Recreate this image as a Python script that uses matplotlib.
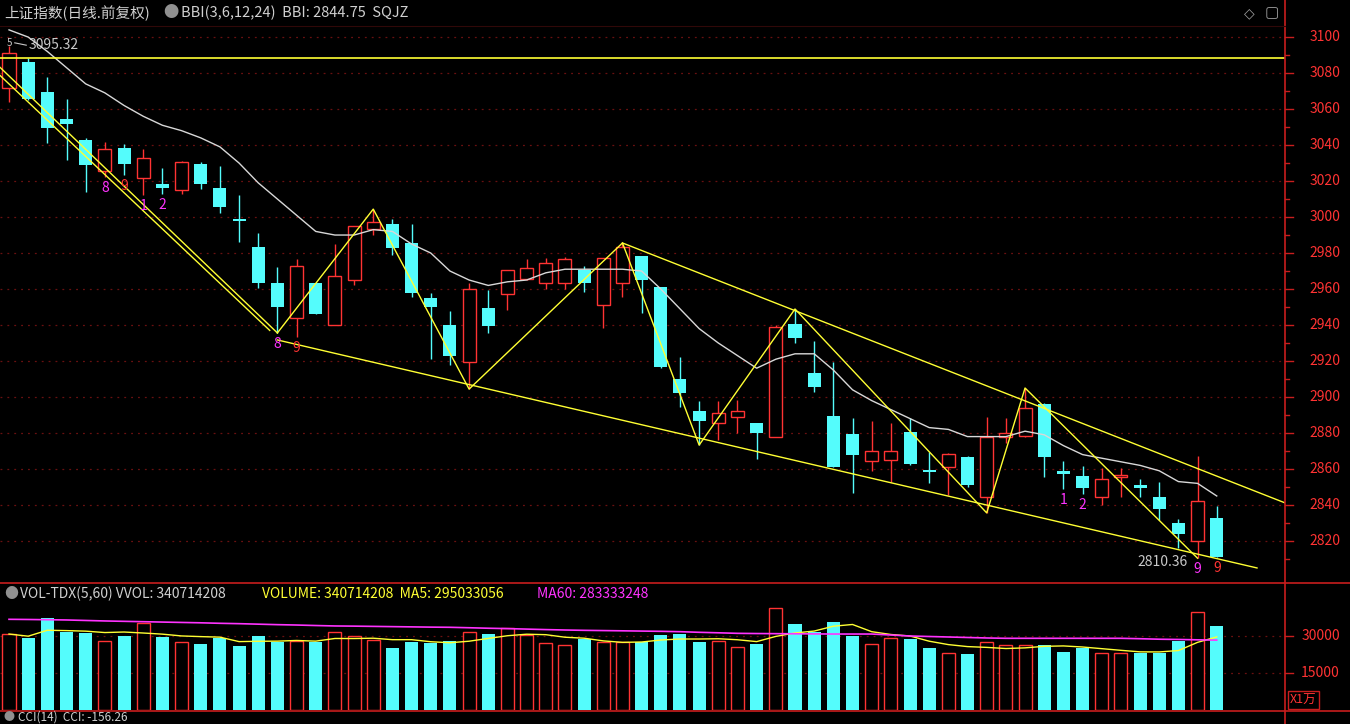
import numpy as np
import pandas as pd
import matplotlib
matplotlib.use("Agg")
import matplotlib.pyplot as plt

plt.rcParams['font.family'] = ['Noto Sans CJK SC', 'DejaVu Sans']

# daily OHLC
opens = [3071.7, 3086.1, 3069.4, 3054.4, 3042.8, 3025.6, 3038.3, 3021.7, 3018.3, 3015.0,
         3029.4, 3016.1, 2999.0, 2983.3, 2963.3, 2943.9, 2963.3, 2940.0, 2965.0, 2993.3,
         2996.1, 2985.6, 2955.0, 2940.0, 2919.4, 2949.4, 2957.2, 2965.6, 2963.3, 2963.3,
         2970.6, 2951.1, 2963.3, 2978.3, 2961.1, 2910.0, 2892.2, 2885.6, 2888.9, 2885.6,
         2877.8, 2940.6, 2913.3, 2889.4, 2879.4, 2864.4, 2865.0, 2880.6, 2859.0, 2861.1,
         2866.7, 2844.4, 2877.8, 2878.3, 2896.1, 2858.9, 2856.1, 2844.4, 2855.6, 2851.1,
         2844.4, 2830.0, 2820.0, 2832.8]
highs = [3095.3, 3088.3, 3077.8, 3065.6, 3043.9, 3041.7, 3040.6, 3037.8, 3027.2, 3031.1,
         3030.6, 3028.3, 3012.2, 2991.1, 2972.2, 2976.7, 2963.3, 2985.0, 2995.0, 3004.4,
         2998.9, 2996.1, 2957.8, 2947.8, 2963.3, 2959.4, 2970.6, 2976.7, 2977.2, 2977.8,
         2972.8, 2977.2, 2985.6, 2978.3, 2961.1, 2922.2, 2897.8, 2897.8, 2898.3, 2885.6,
         2940.0, 2948.9, 2931.1, 2919.4, 2888.3, 2886.7, 2885.6, 2888.3, 2869.4, 2869.0,
         2867.0, 2888.9, 2888.3, 2905.0, 2896.7, 2864.4, 2861.7, 2860.6, 2860.6, 2854.4,
         2852.8, 2832.2, 2867.2, 2839.4]
lows = [3063.9, 3065.0, 3041.1, 3031.7, 3013.9, 3022.2, 3023.3, 3012.2, 3012.8, 3012.8,
        3015.6, 3002.2, 2986.1, 2960.6, 2935.6, 2933.3, 2946.1, 2940.0, 2962.2, 2990.0,
        2978.9, 2955.6, 2921.1, 2917.8, 2904.4, 2935.6, 2948.3, 2965.0, 2960.0, 2960.0,
        2958.3, 2938.3, 2955.6, 2946.7, 2916.0, 2894.4, 2873.3, 2876.1, 2880.0, 2865.6,
        2877.8, 2930.0, 2902.8, 2861.0, 2846.7, 2858.9, 2852.8, 2862.0, 2852.2, 2845.6,
        2850.0, 2835.6, 2874.4, 2878.0, 2855.6, 2848.9, 2846.1, 2840.0, 2844.4, 2844.4,
        2831.7, 2816.1, 2810.4, 2811.0]
closes = [3091.1, 3065.6, 3049.4, 3051.7, 3028.9, 3037.8, 3029.4, 3032.8, 3016.1, 3030.6,
          3018.3, 3005.6, 2998.0, 2963.3, 2950.0, 2972.8, 2946.1, 2967.2, 2995.0, 2997.2,
          2982.8, 2957.8, 2950.0, 2922.8, 2960.0, 2939.4, 2970.6, 2971.7, 2974.4, 2976.7,
          2963.3, 2977.2, 2983.3, 2965.0, 2916.7, 2902.2, 2886.7, 2891.1, 2892.2, 2880.0,
          2938.9, 2932.8, 2905.6, 2861.1, 2867.8, 2870.0, 2870.0, 2862.8, 2858.5, 2868.3,
          2851.1, 2877.8, 2880.0, 2893.9, 2866.7, 2857.2, 2849.4, 2854.4, 2856.7, 2849.4,
          2837.8, 2823.9, 2842.2, 2811.1]
bbi = [3104, 3100, 3092, 3083, 3074, 3069, 3062, 3056, 3051, 3048,
       3044, 3039, 3030, 3019, 3010, 3001, 2992, 2990, 2990, 2993,
       2992, 2985, 2980, 2970, 2965, 2962, 2964, 2965, 2969, 2971,
       2971, 2971, 2971, 2970, 2960, 2949, 2938, 2930, 2923, 2916,
       2921, 2924, 2924, 2915, 2904, 2898, 2893, 2888, 2883, 2882,
       2878, 2878, 2878, 2881, 2879, 2873, 2868, 2866, 2864, 2862,
       2859, 2853, 2852, 2845]
# volume in units of 10k
volume = [30800, 29050, 37150, 31750, 31080, 27970, 30130, 35130, 29460, 27430,
          26620, 29050, 26080, 30130, 27700, 27970, 27700, 31480, 30000, 28380,
          25000, 27700, 27300, 27970, 31480, 30670, 33110, 30400, 27020, 26350,
          28650, 27700, 27430, 27700, 30400, 30670, 27700, 27970, 25680, 26620,
          41210, 34730, 31750, 35540, 30130, 26620, 29050, 28660, 25010, 23230,
          22580, 27450, 26350, 26350, 26350, 23390, 25260, 22990, 22990, 23230,
          23230, 28090, 39610, 34050]
ma60 = [36770, 36700, 36600, 36500, 36300, 36100, 35950, 35800, 35650, 35500,
        35350, 35150, 35000, 34800, 34600, 34450, 34250, 34070, 34000, 33900,
        33800, 33700, 33600, 33530, 33350, 33150, 33000, 32800, 32600, 32430,
        32300, 32200, 32100, 32000, 31900, 31750, 31500, 31300, 31080, 31000,
        30950, 30900, 30850, 30800, 30800, 30800, 30400, 30000, 29800, 29600,
        29400, 29200, 29070, 29070, 29070, 29070, 29070, 29070, 29070, 28900,
        28700, 28600, 28450, 28333]
# zigzag pivots (bar index, price)
zig_idx = [14, 19, 24, 32, 36, 41, 51, 53, 62]
zig_px = [2935.6, 3004.4, 2904.4, 2985.6, 2873.3, 2948.9, 2835.6, 2905.0, 2810.4]
hline = 3088.3
price_ticks = [3100, 3080, 3060, 3040, 3020, 3000, 2980, 2960, 2940, 2920, 2900, 2880, 2860, 2840, 2820]
vol_ticks = [30000, 15000]

W, H = 1350, 724
BG = 'black'
RED = '#ff3333'
CYAN = '#54fcfc'
YEL = '#ffff33'
MAG = '#ff33ff'
AXRED = '#c81e1e'
GRID = '#6a1010'

def fy(y):
    return 1 - y / H

fig = plt.figure(figsize=(W / 100, H / 100), dpi=100, facecolor=BG)
ax = fig.add_axes([0, fy(582), 1285 / W, (582 - 27) / H], facecolor=BG)
axv = fig.add_axes([0, fy(710), 1285 / W, (710 - 605) / H], facecolor=BG)

n = len(opens)
x = np.arange(n)
xl = (-0.47, 66.56)

o = np.array(opens); c = np.array(closes); h = np.array(highs); l = np.array(lows)
up = c >= o
w = 0.68
for i in range(n):
    lo, hi = min(o[i], c[i]), max(o[i], c[i])
    col = RED if up[i] else CYAN
    if up[i]:
        ax.vlines(i, hi, h[i], color=col, lw=1)
        ax.vlines(i, l[i], lo, color=col, lw=1)
        ax.bar(i, max(hi - lo, 0.3), w, lo, facecolor=BG, edgecolor=col, lw=1, zorder=3)
    else:
        ax.vlines(i, l[i], h[i], color=col, lw=1)
        ax.bar(i, max(hi - lo, 0.8), w, lo, color=col, lw=0, zorder=3)

ax.plot(x, bbi, color='#d8d8d8', lw=1, zorder=4)
ax.axhline(hline, color=YEL, lw=1.2, zorder=4)
# first falling leg, drawn as two close lines
ax.plot([-0.5, 14], [3083.5, 2935.6], color=YEL, lw=1, zorder=5)
ax.plot([-0.5, 13.6], [3079.0, 2937.0], color=YEL, lw=1, zorder=5)
ax.plot(zig_idx, zig_px, color=YEL, lw=1, zorder=5)
# channel lines
ax.plot([14, 65.1], [2931.7, 2805.0], color=YEL, lw=1, zorder=5)
ax.plot([32, 66.6], [2985.6, 2841.0], color=YEL, lw=1, zorder=5)

for yv in price_ticks:
    ax.axhline(yv, color=GRID, lw=0.9, ls=(0, (1.5, 4)), zorder=0)
ax.set_xlim(*xl)
ax.set_ylim(2797.2, 3105.6)

# pattern count markers
marks = [(5, '8', MAG), (6, '9', RED), (7, '1', MAG), (8, '2', MAG), (14, '8', MAG),
         (15, '9', RED), (55, '1', MAG), (56, '2', MAG), (62, '9', MAG), (63, '9', RED)]
for i, t, col in marks:
    ax.text(i, l[i] - 2, t, color=col, fontsize=10, ha='center', va='top', zorder=6)
ax.text(61.5, 2808.5, '2810.36', color='#c8c8c8', fontsize=10, ha='right', va='center')
ax.text(0.0, 3096.5, '5', color='#c8c8c8', fontsize=7, ha='center', va='center')
ax.text(1.0, 3095.8, '3095.32', color='#c8c8c8', fontsize=10, ha='left', va='center')
ax.plot([0.3, 0.9], [3096.8, 3095.5], color='#c8c8c8', lw=0.8)

# volume panel
vol = np.array(volume)
for i in range(n):
    if up[i]:
        axv.bar(i, vol[i], w, facecolor=BG, edgecolor=RED, lw=1)
    else:
        axv.bar(i, vol[i], w, color=CYAN, lw=0)
ma5 = pd.Series(volume).rolling(5, min_periods=1).mean()
axv.plot(x, ma5, color=YEL, lw=1, zorder=4)
axv.plot(x, ma60, color=MAG, lw=1.2, zorder=4)
for yv in vol_ticks:
    axv.axhline(yv, color=GRID, lw=0.9, ls=(0, (1.5, 4)), zorder=0)
axv.set_xlim(*xl)
axv.set_ylim(0, 42570)

for a in (ax, axv):
    a.set_xticks([]); a.set_yticks([])
    for s in a.spines.values():
        s.set_visible(False)

# frame lines and right scale
L = matplotlib.lines.Line2D
fig.add_artist(L([1285 / W, 1285 / W], [fy(0), fy(724)], color=AXRED, lw=1.2))
fig.add_artist(L([0, 1], [fy(583), fy(583)], color=AXRED, lw=1.2))
fig.add_artist(L([0, 1], [fy(711), fy(711)], color=AXRED, lw=1.2))
fig.add_artist(L([0, 1285 / W], [fy(26), fy(26)], color='#300808', lw=0.8))

def py(p):
    return 37 + (3100 - p) * 1.8

for p in price_ticks:
    yy = py(p)
    fig.add_artist(L([1285 / W, 1293 / W], [fy(yy), fy(yy)], color=AXRED, lw=1))
    fig.add_artist(L([1285 / W, 1289 / W], [fy(yy + 18), fy(yy + 18)], color=AXRED, lw=1))
    fig.text(1340 / W, fy(yy), str(p), color=RED, fontsize=10, ha='right', va='center')
for v in vol_ticks:
    yy = 710 - v / 405.4
    fig.add_artist(L([1285 / W, 1293 / W], [fy(yy), fy(yy)], color=AXRED, lw=1))
    fig.text(1340 / W, fy(yy), str(v), color=RED, fontsize=10, ha='right', va='center')
fig.text(1290 / W, fy(700), 'X1万', color=RED, fontsize=9, ha='left', va='center',
         bbox=dict(facecolor=BG, edgecolor=AXRED, lw=1, pad=1.5))

# headers
fig.text(4 / W, fy(13), '上证指数(日线.前复权)', color='#d0d0d0', fontsize=10.5, va='center')
fig.text(163 / W, fy(13), '●', color='#909090', fontsize=11, va='center')
fig.text(181 / W, fy(13), 'BBI(3,6,12,24)  BBI: 2844.75  SQJZ', color='#d0d0d0', fontsize=10.5, va='center')
fig.text(1244 / W, fy(13), '◇', color='#a0a0a0', fontsize=10, va='center', family=['DejaVu Sans'])
fig.text(1265 / W, fy(13), '▢', color='#a0a0a0', fontsize=11, va='center', family=['DejaVu Sans'])
fig.text(4 / W, fy(594), '●', color='#909090', fontsize=10, va='center')
fig.text(20 / W, fy(594), 'VOL-TDX(5,60) VVOL: 340714208', color='#d0d0d0', fontsize=10, va='center')
fig.text(262 / W, fy(594), 'VOLUME: 340714208  MA5: 295033056', color=YEL, fontsize=10, va='center')
fig.text(537 / W, fy(594), 'MA60: 283333248', color=MAG, fontsize=10, va='center')
fig.text(4 / W, fy(717), '●', color='#909090', fontsize=8, va='center')
fig.text(18 / W, fy(717), 'CCI(14)  CCI: -156.26', color='#d0d0d0', fontsize=8.5, va='center')

fig.savefig('out.png', dpi=100, facecolor=BG)
